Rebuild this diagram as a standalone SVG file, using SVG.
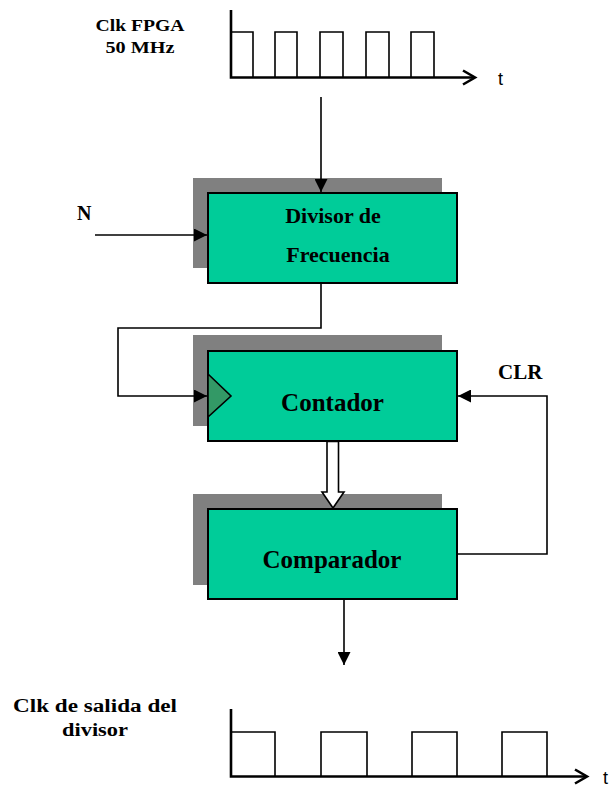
<svg xmlns="http://www.w3.org/2000/svg" width="614" height="787" viewBox="0 0 614 787">
<style>
.lbl{font-family:"Liberation Serif","Times New Roman",serif;font-weight:bold;fill:#000}
.t{font-family:"Liberation Sans",Arial,sans-serif;font-size:18px;fill:#000}
.shadow{fill:#808080}
.box{fill:#00CC99;stroke:#000;stroke-width:2}
.wire{fill:none;stroke:#000;stroke-width:1.6}
.axis{fill:none;stroke:#000;stroke-width:2.6}
.pulse{fill:none;stroke:#000;stroke-width:1.6}
</style>
<defs>
<marker id="ah" markerUnits="userSpaceOnUse" viewBox="0 0 12 12" refX="12" refY="6" markerWidth="13" markerHeight="13" orient="auto">
<path d="M0,0 L12,6 L0,12 z" fill="#000"/>
</marker>
</defs>
<g id="clk-in">
<text class="lbl" x="140" y="31" font-size="17" text-anchor="middle" textLength="89" lengthAdjust="spacingAndGlyphs">Clk FPGA</text>
<text class="lbl" x="140" y="53" font-size="17" text-anchor="middle" textLength="69" lengthAdjust="spacingAndGlyphs">50 MHz</text>
<path class="pulse" d="M231,77.5 V32 H253 V77.5 M275,77.5 V32 H297 V77.5 M320,77.5 V32 H343 V77.5 M366,77.5 V32 H389 V77.5 M411,77.5 V32 H434 V77.5"/>
<path class="axis" d="M231,10 V77.5 H475"/>
<polyline class="axis" points="463,70.5 475,77.5 463,84.5"/>
<text class="t" x="498" y="85">t</text>
</g>
<g id="divisor">
<rect class="shadow" x="193" y="178" width="249" height="90"/>
<rect class="box" x="208" y="193" width="249" height="90"/>
<text class="lbl" x="333" y="223" font-size="22" text-anchor="middle">Divisor de</text>
<text class="lbl" x="338" y="262" font-size="22" text-anchor="middle">Frecuencia</text>
</g>
<g id="n-label">
<text class="lbl" x="77" y="220" font-size="20">N</text>
</g>
<g id="contador">
<rect class="shadow" x="193" y="335" width="249" height="91"/>
<rect class="box" x="208" y="351" width="249" height="90"/>
<polygon points="208,374 231,396 208,417" fill="#339966" stroke="#000" stroke-width="1.6"/>
<text class="lbl" x="332.5" y="411" font-size="25" text-anchor="middle">Contador</text>
</g>
<g id="clr-label">
<text class="lbl" x="498" y="379" font-size="21">CLR</text>
</g>
<g id="comparador">
<rect class="shadow" x="193" y="494" width="249" height="91"/>
<rect class="box" x="208" y="509" width="249" height="90"/>
<text class="lbl" x="332" y="568" font-size="25" text-anchor="middle">Comparador</text>
</g>
<g id="clk-out">
<text class="lbl" x="95" y="712" font-size="18" text-anchor="middle" textLength="164" lengthAdjust="spacingAndGlyphs">Clk  de salida del</text>
<text class="lbl" x="95" y="736" font-size="18" text-anchor="middle" textLength="66" lengthAdjust="spacingAndGlyphs">divisor</text>
<path class="pulse" d="M231,776.5 V732 H275 V776.5 M321,776.5 V732 H367 V776.5 M412,776.5 V732 H457 V776.5 M502,776.5 V732 H547 V776.5"/>
<path class="axis" d="M231,709 V776.5 H587"/>
<polyline class="axis" points="575,769.5 587,776.5 575,783.5"/>
<text class="t" x="603" y="784">t</text>
</g>
<g id="connectors">
<line class="wire" x1="321" y1="97" x2="321" y2="192" marker-end="url(#ah)"/>
<line class="wire" x1="95" y1="235" x2="207" y2="235" marker-end="url(#ah)"/>
<polyline class="wire" points="321,283 321,328 118,328 118,396 207,396" marker-end="url(#ah)"/>
<polyline class="wire" points="457,554 547,554 547,396 458,396" marker-end="url(#ah)"/>
<polygon points="327,441.5 338.5,441.5 338.5,492 344,492 333,508 322,492 327,492" fill="#fff" stroke="#000" stroke-width="1.6"/>
<line class="wire" x1="344" y1="599" x2="344" y2="665" marker-end="url(#ah)"/>
</g>
</svg>
